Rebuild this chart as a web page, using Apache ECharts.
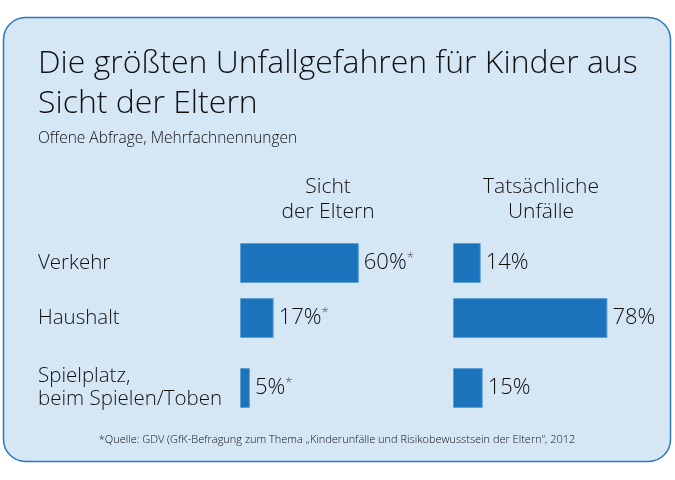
<!DOCTYPE html>
<html><head><meta charset="utf-8">
<script src="https://cdn.jsdelivr.net/npm/echarts@6/dist/echarts.min.js"></script>
<style>html,body{margin:0;padding:0;background:#fff}#c{width:675px;height:480px}</style>
</head><body><div id="c"></div>
<script>
const categories = ['Verkehr', 'Haushalt', 'Spielplatz,\nbeim Spielen/Toben'];
const parentsView = [60, 17, 5];
const actualAccidents = [14, 78, 15];
const parentsStar = [true, true, true];
const actualStar = [false, false, false];
const columnTitles = ['Sicht\nder Eltern', 'Tatsächliche\nUnfälle'];

const FONT = "'Open Sans', sans-serif";
const rowCenters = [263, 318, 388];
const colLefts = [240, 453];
const cols = [parentsView, actualAccidents];
const stars = [parentsStar, actualStar];

const grid = [], xAxis = [], yAxis = [], series = [];
let gi = 0;
for (let c = 0; c < 2; c++) {
  for (let r = 0; r < categories.length; r++) {
    grid.push({left: colLefts[c], top: rowCenters[r] - 20, width: 198, height: 40});
    xAxis.push({gridIndex: gi, type: 'value', min: 0, max: 100, show: false});
    yAxis.push({gridIndex: gi, type: 'category', data: [categories[r]],
      axisLine: {show: false}, axisTick: {show: false}, splitLine: {show: false},
      axisLabel: {show: c === 0, align: 'left', margin: colLefts[0] - 38,
        fontFamily: FONT, fontSize: 20.5, fontWeight: 300, color: '#111', lineHeight: 23}});
    const star = stars[c][r];
    series.push({type: 'bar', xAxisIndex: gi, yAxisIndex: gi, barWidth: 40,
      data: [cols[c][r]], silent: true,
      itemStyle: {color: '#1b73bb', borderColor: '#5e9fd6', borderWidth: 1},
      label: {show: true, position: 'right', distance: 5,
        formatter: p => p.value + '%' + (star ? '{s|*}' : ''),
        fontFamily: FONT, fontSize: 22, fontWeight: 300, color: '#111',
        rich: {s: {fontSize: 13, color: '#555', verticalAlign: 'top', padding: [0,0,10,0]}}}});
    gi++;
  }
}

const chart = echarts.init(document.getElementById('c'), null, {renderer: 'canvas'});
chart.setOption({
  animation: false,
  grid, xAxis, yAxis, series,
  graphic: [
    {type: 'rect', z: -10, shape: {x: 3.5, y: 17.5, width: 667, height: 444, r: 22},
      style: {fill: '#d5e6f5', stroke: '#2a78c2', lineWidth: 1.5}},
    {type: 'text', left: 38, top: 44, style: {text: 'Die größten Unfallgefahren für Kinder aus\nSicht der Eltern',
      font: "300 32px 'Open Sans', sans-serif", fill: '#111', lineHeight: 40}},
    {type: 'text', left: 38, top: 131, style: {text: 'Offene Abfrage, Mehrfachnennungen',
      font: "300 15.5px 'Open Sans', sans-serif", fill: '#111'}},
    {type: 'text', x: 328, y: 175, style: {text: columnTitles[0], align: 'center',
      font: "300 21px 'Open Sans', sans-serif", fill: '#111', lineHeight: 25}},
    {type: 'text', x: 541, y: 175, style: {text: columnTitles[1], align: 'center',
      font: "300 21px 'Open Sans', sans-serif", fill: '#111', lineHeight: 25}},
    {type: 'text', x: 337, y: 434, style: {text: '*Quelle: GDV (GfK-Befragung zum Thema „Kinderunfälle und Risikobewusstsein der Eltern“, 2012',
      align: 'center', font: "300 11px 'Open Sans', sans-serif", fill: '#111'}}
  ]
});
</script></body></html>
